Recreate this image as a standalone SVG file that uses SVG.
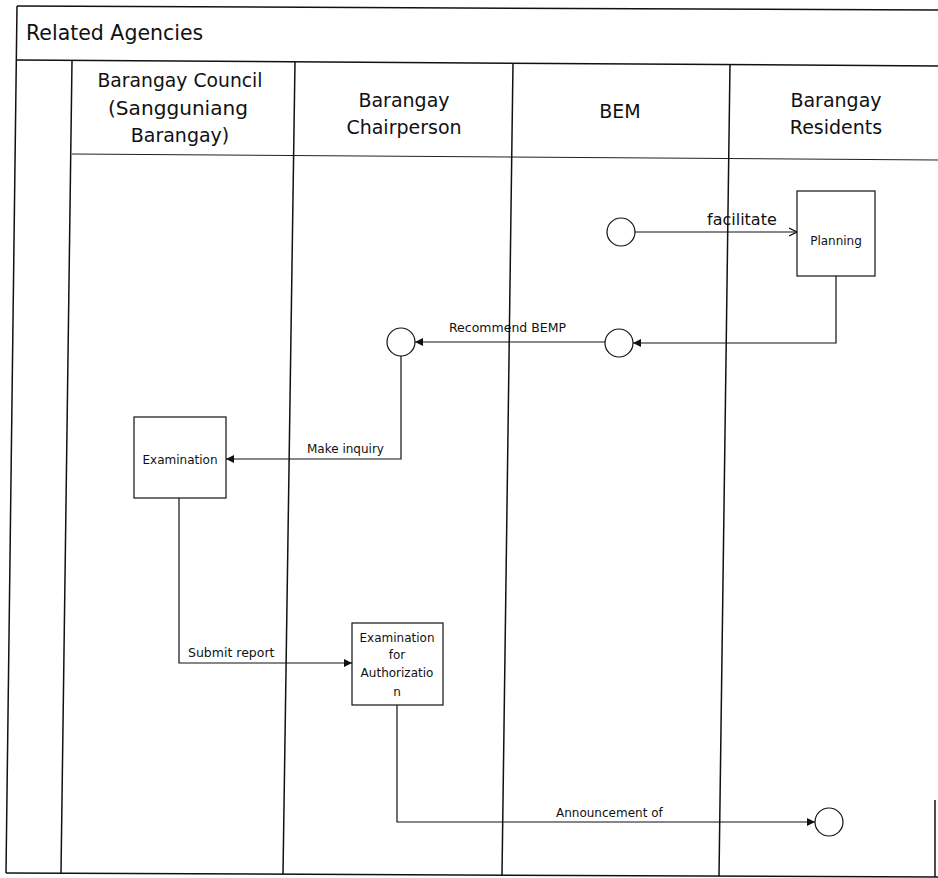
<svg xmlns="http://www.w3.org/2000/svg" width="938" height="878" viewBox="0 0 938 878">
<style>
.frame{stroke:#111;stroke-width:1.5;fill:none}
.thin{stroke:#222;stroke-width:1.1;fill:none}
.node{fill:#fff;stroke:#111;stroke-width:1.2}
.conn{stroke:#111;stroke-width:1.2;fill:none}
.hd{font-family:"DejaVu Sans",sans-serif;font-size:19px;fill:#111;text-anchor:middle}
.title{font-family:"DejaVu Sans",sans-serif;font-size:20.5px;fill:#111}
.lbl{font-family:"DejaVu Sans",sans-serif;font-size:12px;fill:#111}
.box{font-family:"DejaVu Sans",sans-serif;font-size:12px;fill:#111;text-anchor:middle}
</style>
<defs>
<marker id="fill" viewBox="0 0 10 10" refX="10" refY="5" markerWidth="9" markerHeight="8" markerUnits="userSpaceOnUse" orient="auto">
<path d="M0,0 L10,5 L0,10 z" fill="#111"/>
</marker>
<marker id="open" viewBox="0 0 10 10" refX="10" refY="5" markerWidth="8" markerHeight="10" markerUnits="userSpaceOnUse" orient="auto">
<path d="M0,0 L10,5 L0,10" fill="none" stroke="#111" stroke-width="1.4"/>
</marker>
</defs>
<rect width="938" height="878" fill="#fff"/>
<g id="pool">
<line class="frame" x1="17" y1="6" x2="938" y2="10"/>
<line class="frame" x1="17" y1="60" x2="938" y2="66"/>
<line class="thin" x1="72" y1="154" x2="938" y2="160"/>
<line class="frame" x1="6" y1="873" x2="938" y2="877"/>
<line class="frame" x1="17" y1="6" x2="6" y2="873"/>
<line class="frame" x1="72" y1="61" x2="61" y2="873"/>
<line class="frame" x1="295" y1="62" x2="283" y2="874"/>
<line class="frame" x1="513" y1="63" x2="502" y2="875"/>
<line class="frame" x1="730" y1="64" x2="719" y2="876"/>
<line class="frame" x1="935" y1="800" x2="935" y2="877"/>
<text class="title" x="26" y="40">Related Agencies</text>
</g>
<g id="lane-council">
<text class="hd" x="180" y="87" textLength="165" lengthAdjust="spacingAndGlyphs">Barangay Council</text>
<text class="hd" x="178" y="115" textLength="140" lengthAdjust="spacingAndGlyphs">(Sangguniang</text>
<text class="hd" x="180" y="142">Barangay)</text>
</g>
<g id="lane-chair">
<text class="hd" x="404" y="107">Barangay</text>
<text class="hd" x="404" y="134">Chairperson</text>
</g>
<g id="lane-bem">
<text class="hd" x="620" y="118">BEM</text>
</g>
<g id="lane-residents">
<text class="hd" x="836" y="107">Barangay</text>
<text class="hd" x="836" y="134">Residents</text>
</g>
<g id="connectors">
<line class="conn" x1="635" y1="232" x2="797" y2="232" marker-end="url(#open)"/>
<path class="conn" d="M836,276 V343 H633" marker-end="url(#fill)"/>
<path class="conn" d="M605,342 H415" marker-end="url(#fill)"/>
<path class="conn" d="M401,356 V459 H226" marker-end="url(#fill)"/>
<path class="conn" d="M179,498 V663 H352" marker-end="url(#fill)"/>
<path class="conn" d="M397,705 V822 H815" marker-end="url(#fill)"/>
<text class="lbl" x="707" y="225" style="font-size:16px">facilitate</text>
<text class="lbl" x="449" y="332" style="font-size:12.5px">Recommend BEMP</text>
<text class="lbl" x="307" y="453">Make inquiry</text>
<text class="lbl" x="188" y="657" style="font-size:12.5px">Submit report</text>
<text class="lbl" x="556" y="817">Announcement of</text>
</g>
<g id="start-bem">
<circle class="node" cx="621" cy="232" r="14"/>
</g>
<g id="planning">
<rect class="node" x="797" y="191" width="78" height="85"/>
<text class="box" x="836" y="245">Planning</text>
</g>
<g id="bem-relay">
<circle class="node" cx="619" cy="343" r="14"/>
</g>
<g id="chair-receive">
<circle class="node" cx="401" cy="342" r="14"/>
</g>
<g id="examination">
<rect class="node" x="134" y="417" width="92" height="81"/>
<text class="box" x="180" y="464">Examination</text>
</g>
<g id="exam-authorization">
<rect class="node" x="352" y="623" width="91" height="82"/>
<text class="box" x="397" y="642">Examination</text>
<text class="box" x="397" y="659">for</text>
<text class="box" x="397" y="677">Authorizatio</text>
<text class="box" x="397" y="696">n</text>
</g>
<g id="end-residents">
<circle class="node" cx="829" cy="822" r="14"/>
</g>
</svg>
